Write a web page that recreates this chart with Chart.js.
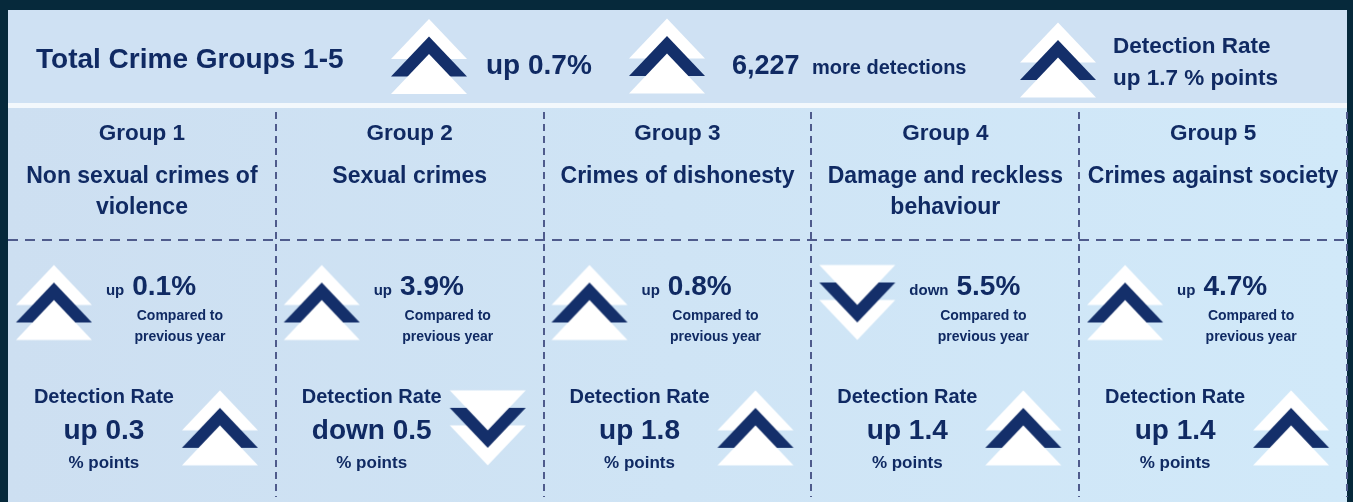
<!DOCTYPE html>
<html>
<head>
<meta charset="utf-8">
<script src="https://cdn.jsdelivr.net/npm/chart.js@4/dist/chart.umd.min.js"></script>
<style>
  html, body { margin: 0; padding: 0; background: #06293b; }
</style>
</head>
<body>
<canvas id="crimeChart" width="1353" height="502"></canvas>
<script>
const groups = ['Group 1', 'Group 2', 'Group 3', 'Group 4', 'Group 5'];
const groupNames = [
    ['Non sexual crimes of', 'violence'],
    ['Sexual crimes'],
    ['Crimes of dishonesty'],
    ['Damage and reckless', 'behaviour'],
    ['Crimes against society']
];
const crimeChange = [0.1, 3.9, 0.8, -5.5, 4.7];        // % change on previous year
const detectionChange = [0.3, -0.5, 1.8, 1.4, 1.4];    // detection rate, % points
const totalLabel = 'Total Crime Groups 1-5';
const totalChange = 0.7;
const totalDetections = 6227;
const totalDetectionChange = 1.7;

const navy = '#142f6a';
const textColor = '#102a63';
const gridColor = '#4f5b8c';
const font = '"Liberation Sans", Arial, sans-serif';

// rows on the y scale (0 = top of group panel)
const changeRow = 1.5;
const detectionRow = 2.5;
const changeDx = -88;
const detectionDx = 78;

// white / navy / white triangles stacked, the front white one sits opposite the tip
function drawChevron(ctx, cx, cy, up) {
    const w = 76, h = 40, step = 17.5;
    const y0 = cy - (h + 2 * step) / 2;
    const layers = [['#ffffff', 0], [navy, 1], ['#ffffff', 2]];
    if (!up) layers.reverse();
    layers.forEach(([c, k]) => {
        const yk = y0 + k * step;
        ctx.beginPath();
        if (up) {
            ctx.moveTo(cx, yk);
            ctx.lineTo(cx + w / 2, yk + h);
            ctx.lineTo(cx - w / 2, yk + h);
        } else {
            ctx.moveTo(cx - w / 2, yk);
            ctx.lineTo(cx + w / 2, yk);
            ctx.lineTo(cx, yk + h);
        }
        ctx.closePath();
        ctx.fillStyle = c;
        ctx.fill();
    });
}

// point style images, chevron sits off the point by (dx, dy)
function chevronImage(up, dx, dy) {
    const c = document.createElement('canvas');
    c.width = 2 * Math.abs(dx) + 80;
    c.height = 2 * Math.abs(dy) + 80;
    drawChevron(c.getContext('2d'), c.width / 2 + dx, c.height / 2 + dy, up);
    return c;
}
const changeUp = chevronImage(true, changeDx, -2);
const changeDown = chevronImage(false, changeDx, -2);
const detUp = chevronImage(true, detectionDx, -5);
const detDown = chevronImage(false, detectionDx, -5);

function text(ctx, str, x, y, size, align) {
    ctx.font = 'bold ' + size + 'px ' + font;
    ctx.textAlign = align || 'left';
    ctx.textBaseline = 'alphabetic';
    ctx.fillStyle = textColor;
    ctx.fillText(str, x, y);
    return ctx.measureText(str).width;
}

const word = v => v >= 0 ? 'up' : 'down';

const backgroundPlugin = {
    id: 'panels',
    beforeDraw(chart) {
        const ctx = chart.ctx;
        ctx.save();
        ctx.fillStyle = '#06293b';
        ctx.fillRect(0, 0, chart.width, chart.height);
        ctx.fillStyle = '#cfe1f3';
        ctx.fillRect(8, 10, 1339, 93);
        ctx.fillStyle = '#f3f8fc';
        ctx.fillRect(8, 103, 1339, 5);
        const g = ctx.createLinearGradient(8, 0, 1347, 0);
        g.addColorStop(0, '#cddff1');
        g.addColorStop(1, '#d1e9f9');
        ctx.fillStyle = g;
        ctx.fillRect(8, 108, 1339, chart.height - 108);
        ctx.restore();
    }
};

const labelsPlugin = {
    id: 'labels',
    afterDraw(chart) {
        const ctx = chart.ctx;
        const x = chart.scales.x, y = chart.scales.y;
        ctx.save();

        // header band
        text(ctx, totalLabel, 36, 68, 28);
        drawChevron(ctx, 429, 56.5, totalChange >= 0);
        text(ctx, word(totalChange) + ' ' + Math.abs(totalChange).toFixed(1) + '%', 486, 74, 28);
        drawChevron(ctx, 667, 56, totalDetections >= 0);
        text(ctx, Math.abs(totalDetections).toLocaleString('en-GB'), 732, 74, 27);
        text(ctx, totalDetections >= 0 ? 'more detections' : 'fewer detections', 812, 74, 20);
        drawChevron(ctx, 1058, 60, totalDetectionChange >= 0);
        text(ctx, 'Detection Rate', 1113, 53, 22.5);
        text(ctx, word(totalDetectionChange) + ' ' + Math.abs(totalDetectionChange).toFixed(1) + ' % points', 1113, 85, 22.5);

        const yTop = y.getPixelForValue(0);
        const yC = y.getPixelForValue(changeRow);
        const yD = y.getPixelForValue(detectionRow);
        groups.forEach((g, i) => {
            const cx = x.getPixelForValue(i);
            text(ctx, g, cx, yTop + 28, 22.5, 'center');
            groupNames[i].forEach((line, k) => text(ctx, line, cx, yTop + 71 + k * 31, 23, 'center'));

            // change on previous year
            const v = crimeChange[i];
            const lineX = cx + changeDx + 38 + 14;
            const ww = text(ctx, word(v), lineX, yC - 10, 15);
            text(ctx, Math.abs(v).toFixed(1) + '%', lineX + ww + 8, yC - 10, 28);
            text(ctx, 'Compared to', cx + 38, yC + 15, 14, 'center');
            text(ctx, 'previous year', cx + 38, yC + 36, 14, 'center');

            // detection rate
            const d = detectionChange[i];
            text(ctx, 'Detection Rate', cx - 38, yD - 30, 20, 'center');
            text(ctx, word(d) + ' ' + Math.abs(d).toFixed(1), cx - 38, yD + 6, 28, 'center');
            text(ctx, '% points', cx - 38, yD + 35, 17, 'center');
        });
        ctx.restore();
    }
};

const ctx = document.getElementById('crimeChart').getContext('2d');
const crimeChart = new Chart(ctx, {
    type: 'line',
    data: {
        labels: groups,
        datasets: [{
            label: 'Recorded crime, % change',
            data: groups.map(() => changeRow),
            showLine: false,
            pointStyle: c => crimeChange[c.dataIndex] >= 0 ? changeUp : changeDown,
            clip: false
        }, {
            label: 'Detection rate, % points',
            data: groups.map(() => detectionRow),
            showLine: false,
            pointStyle: c => detectionChange[c.dataIndex] >= 0 ? detUp : detDown,
            clip: false
        }]
    },
    options: {
        responsive: false,
        animation: false,
        events: [],
        devicePixelRatio: 1,
        layout: { padding: { left: 8, right: 6, top: 112, bottom: 0 } },
        plugins: {
            legend: { display: false },
            tooltip: { enabled: false }
        },
        scales: {
            x: {
                type: 'category',
                offset: true,
                grid: {
                    offset: true,
                    drawTicks: false,
                    lineWidth: 2,
                    color: c => (c.index === 0 || c.index === groups.length) ? 'rgba(0,0,0,0)' : gridColor
                },
                border: { display: false, dash: [7, 5] },
                ticks: { display: false }
            },
            y: {
                type: 'linear',
                reverse: true,
                min: 0,
                max: 3,
                grid: {
                    drawTicks: false,
                    lineWidth: 2,
                    color: c => (c.tick && c.tick.value === 1) ? gridColor : 'rgba(0,0,0,0)'
                },
                border: { display: false, dash: [10, 7] },
                ticks: { display: false, stepSize: 1 }
            }
        }
    },
    plugins: [backgroundPlugin, labelsPlugin]
});
</script>
</body>
</html>
